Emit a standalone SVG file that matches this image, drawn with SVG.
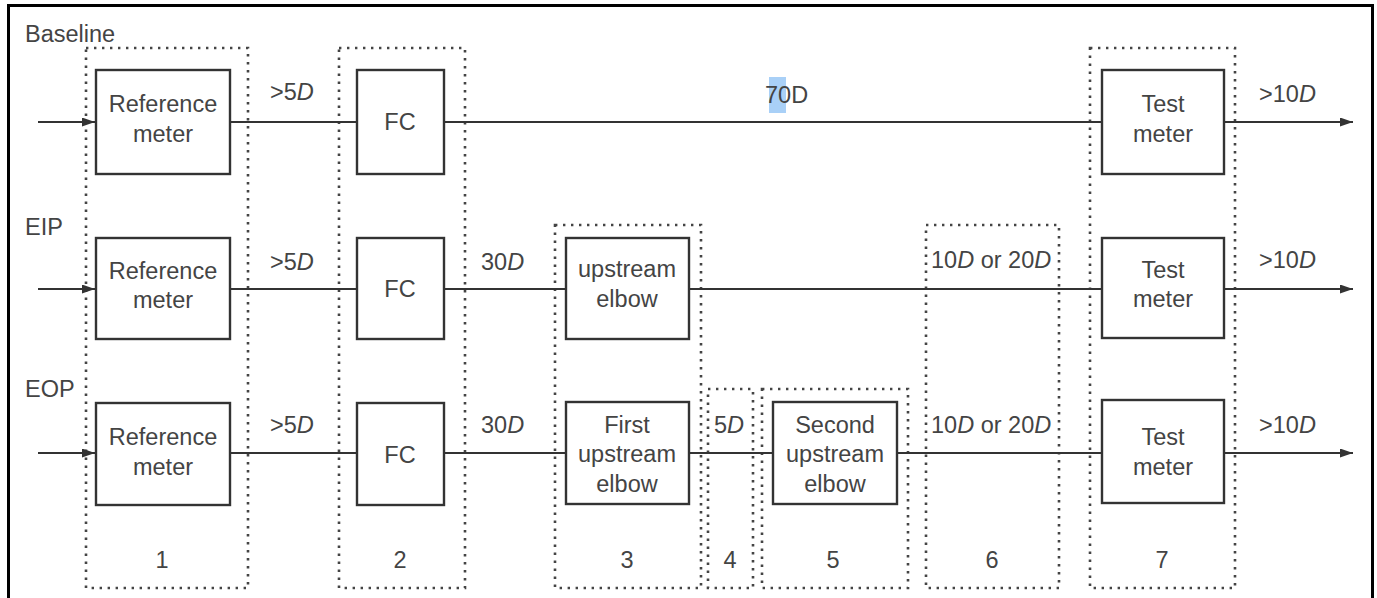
<svg xmlns="http://www.w3.org/2000/svg" width="1377" height="598" viewBox="0 0 1377 598">
<defs>
<marker id="ah" markerWidth="13" markerHeight="9" refX="13" refY="4.5" orient="auto" markerUnits="userSpaceOnUse">
<path d="M0,0 L13,4.5 L0,9 Z" fill="#333"/>
</marker>
<style>
.frame{fill:none;stroke:#000;stroke-width:3}
.dot{fill:none;stroke:#444;stroke-width:2.6;stroke-dasharray:2.4 5.6}
.box{fill:#fff;stroke:#333;stroke-width:2.4}
.ln{stroke:#333;stroke-width:2;fill:none}
.arr{stroke:#333;stroke-width:2;fill:none;marker-end:url(#ah)}
text{font-family:"Liberation Sans",Arial,sans-serif;font-size:23.5px;fill:#444}
.c{text-anchor:middle}
.i{font-style:italic}
</style>
</defs>
<rect width="1377" height="598" fill="#fff"/>
<rect class="frame" x="8.5" y="5.5" width="1364" height="620"/>

<g id="zones">
<rect class="dot" x="86" y="48" width="162" height="540"/>
<rect class="dot" x="339" y="48" width="126" height="540"/>
<rect class="dot" x="555" y="225" width="146" height="363"/>
<rect class="dot" x="708" y="389" width="45" height="199"/>
<rect class="dot" x="762" y="389" width="146" height="199"/>
<rect class="dot" x="926" y="225" width="133" height="363"/>
<rect class="dot" x="1090" y="48" width="145" height="540"/>
</g>

<g id="connectors">
<line class="arr" x1="38" y1="122" x2="95" y2="122"/>
<line class="ln" x1="230" y1="122" x2="357" y2="122"/>
<line class="ln" x1="444" y1="122" x2="1102" y2="122"/>
<line class="arr" x1="1224" y1="122" x2="1353" y2="122"/>

<line class="arr" x1="38" y1="289" x2="95" y2="289"/>
<line class="ln" x1="230" y1="289" x2="357" y2="289"/>
<line class="ln" x1="444" y1="289" x2="566" y2="289"/>
<line class="ln" x1="689" y1="289" x2="1102" y2="289"/>
<line class="arr" x1="1224" y1="289" x2="1353" y2="289"/>

<line class="arr" x1="38" y1="453" x2="95" y2="453"/>
<line class="ln" x1="230" y1="453" x2="357" y2="453"/>
<line class="ln" x1="444" y1="453" x2="566" y2="453"/>
<line class="ln" x1="689" y1="453" x2="773" y2="453"/>
<line class="ln" x1="897" y1="453" x2="1102" y2="453"/>
<line class="arr" x1="1224" y1="453" x2="1353" y2="453"/>
</g>

<g id="row-labels">
<text x="25" y="42">Baseline</text>
<text x="25" y="235">EIP</text>
<text x="25" y="397">EOP</text>
</g>

<g id="baseline-ref">
<rect class="box" x="96" y="70" width="134" height="104"/>
<text class="c" x="163" y="112">Reference</text>
<text class="c" x="163" y="142">meter</text>
</g>
<g id="baseline-fc">
<rect class="box" x="357" y="70" width="87" height="104"/>
<text class="c" x="400" y="130">FC</text>
</g>
<g id="baseline-test">
<rect class="box" x="1102" y="70" width="122" height="104"/>
<text class="c" x="1163" y="112">Test</text>
<text class="c" x="1163" y="142">meter</text>
</g>

<g id="eip-ref">
<rect class="box" x="96" y="238" width="134" height="101"/>
<text class="c" x="163" y="279">Reference</text>
<text class="c" x="163" y="308">meter</text>
</g>
<g id="eip-fc">
<rect class="box" x="357" y="238" width="87" height="101"/>
<text class="c" x="400" y="297">FC</text>
</g>
<g id="eip-elbow">
<rect class="box" x="566" y="238" width="123" height="101"/>
<text class="c" x="627" y="277">upstream</text>
<text class="c" x="627" y="307">elbow</text>
</g>
<g id="eip-test">
<rect class="box" x="1102" y="238" width="122" height="100"/>
<text class="c" x="1163" y="278">Test</text>
<text class="c" x="1163" y="307">meter</text>
</g>

<g id="eop-ref">
<rect class="box" x="96" y="403" width="134" height="102"/>
<text class="c" x="163" y="445">Reference</text>
<text class="c" x="163" y="475">meter</text>
</g>
<g id="eop-fc">
<rect class="box" x="357" y="403" width="87" height="102"/>
<text class="c" x="400" y="463">FC</text>
</g>
<g id="eop-elbow1">
<rect class="box" x="566" y="402" width="123" height="102"/>
<text class="c" x="627" y="433">First</text>
<text class="c" x="627" y="462">upstream</text>
<text class="c" x="627" y="492">elbow</text>
</g>
<g id="eop-elbow2">
<rect class="box" x="773" y="402" width="124" height="102"/>
<text class="c" x="835" y="433">Second</text>
<text class="c" x="835" y="462">upstream</text>
<text class="c" x="835" y="492">elbow</text>
</g>
<g id="eop-test">
<rect class="box" x="1102" y="400" width="122" height="103"/>
<text class="c" x="1163" y="445">Test</text>
<text class="c" x="1163" y="475">meter</text>
</g>

<g id="distance-labels">
<text x="270" y="100">&gt;5<tspan class="i">D</tspan></text>
<rect x="769" y="77" width="17" height="36" fill="#a9d0f7"/>
<text x="765" y="103">70D</text>
<text x="1259" y="102">&gt;10<tspan class="i">D</tspan></text>

<text x="270" y="270">&gt;5<tspan class="i">D</tspan></text>
<text x="481" y="270">30<tspan class="i">D</tspan></text>
<text x="931" y="268">10<tspan class="i">D</tspan> or 20<tspan class="i">D</tspan></text>
<text x="1259" y="268">&gt;10<tspan class="i">D</tspan></text>

<text x="270" y="433">&gt;5<tspan class="i">D</tspan></text>
<text x="481" y="433">30<tspan class="i">D</tspan></text>
<text x="714" y="433">5<tspan class="i">D</tspan></text>
<text x="931" y="433">10<tspan class="i">D</tspan> or 20<tspan class="i">D</tspan></text>
<text x="1259" y="433">&gt;10<tspan class="i">D</tspan></text>
</g>

<g id="zone-numbers">
<text class="c" x="162" y="568">1</text>
<text class="c" x="400" y="568">2</text>
<text class="c" x="627" y="568">3</text>
<text class="c" x="730" y="568">4</text>
<text class="c" x="833" y="568">5</text>
<text class="c" x="992" y="568">6</text>
<text class="c" x="1162" y="568">7</text>
</g>
</svg>
